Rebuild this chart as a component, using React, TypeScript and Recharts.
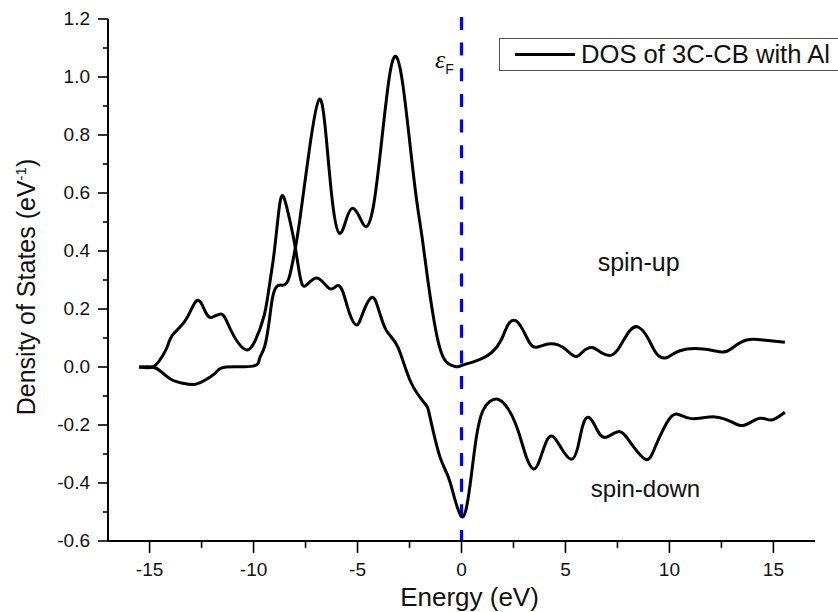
import { Label, Legend, Line, LineChart, ReferenceDot, ReferenceLine, XAxis, YAxis } from "recharts";

// curve that starts with the hump near -12.7 eV and finishes as the spin-down branch
const spinDownEnergy = [
  -15.5, -14.85, -14.45, -14.15, -13.9, -13.25, -12.73, -12.36, -12.04, -11.56, -11.24, -10.83, -10.35, -9.95, -9.5,
  -9.25, -9.0, -8.76, -8.55, -8.26, -8.0, -7.76, -7.5, -6.95, -6.36, -6.0, -5.71, -5.39, -5.04, -4.75,
  -4.35, -4.03, -3.63, -3.07, -2.45, -1.77, -1.52, -1.04, -0.56, 0, 0.4, 0.72, 1.03, 1.36, 1.75,
  2.23, 2.71, 3.11, 3.47, 3.76, 4.08, 4.4, 4.8, 5.28, 5.6, 5.84, 6.13, 6.48, 6.89, 7.53,
  8.09, 8.84, 9.29, 9.86, 10.34, 11.06, 12.18, 13.07, 13.63, 14.35, 14.9, 15.55,
];
const spinDownDos = [
  0, 0, 0.03, 0.07, 0.11, 0.164, 0.229, 0.197, 0.171, 0.183, 0.15, 0.093, 0.059, 0.087, 0.175,
  0.275, 0.4, 0.552, 0.586, 0.507, 0.415, 0.311, 0.28, 0.307, 0.271, 0.28, 0.26, 0.186, 0.145, 0.185,
  0.239, 0.208, 0.128, 0.07, -0.05, -0.125, -0.171, -0.309, -0.395, -0.516, -0.413, -0.24, -0.15, -0.119, -0.111,
  -0.143, -0.217, -0.309, -0.352, -0.321, -0.257, -0.24, -0.28, -0.318, -0.275, -0.2, -0.174, -0.211, -0.243, -0.223,
  -0.257, -0.318, -0.28, -0.194, -0.162, -0.178, -0.172, -0.192, -0.2, -0.177, -0.183, -0.156,
];

// curve that starts with the dip near -12.8 eV and finishes as the spin-up branch
const spinUpEnergy = [
  -15.5, -14.85, -14.45, -13.96, -13.4, -12.84, -12.28, -11.8, -11.32, -10.03, -9.71, -9.47, -9.24, -9.08, -8.84,
  -8.52, -8.28, -8.07, -7.8, -7.32, -6.84, -6.51, -6.2, -5.87, -5.55, -5.26, -4.91, -4.59, -4.24, -3.87,
  -3.47, -3.14, -2.83, -2.5, -2.18, -1.9, -1.62, -1.3, -1.06, -0.74, -0.26, 0, 0.8, 1.45, 1.91,
  2.23, 2.6, 2.95, 3.27, 3.6, 4.16, 4.64, 5.04, 5.49, 5.84, 6.28, 6.73, 7.21, 7.61, 8.09,
  8.52, 8.97, 9.37, 9.86, 10.5, 11.62, 12.58, 13.07, 13.71, 14.51, 15.55,
];
const spinUpDos = [
  0, 0, -0.016, -0.043, -0.056, -0.06, -0.043, -0.018, 0, 0.003, 0.03, 0.07, 0.162, 0.242, 0.28,
  0.283, 0.311, 0.38, 0.495, 0.748, 0.923, 0.794, 0.565, 0.461, 0.507, 0.547, 0.518, 0.484, 0.553, 0.76,
  1.0, 1.07, 0.978, 0.783, 0.587, 0.45, 0.3, 0.151, 0.07, 0.018, 0.001, 0.005, 0.024, 0.05, 0.093,
  0.145, 0.16, 0.128, 0.084, 0.068, 0.079, 0.076, 0.059, 0.036, 0.053, 0.067, 0.049, 0.041, 0.07, 0.125,
  0.137, 0.099, 0.047, 0.032, 0.056, 0.062, 0.052, 0.068, 0.093, 0.093, 0.085,
];

const xTicks = [-15, -12.5, -10, -7.5, -5, -2.5, 0, 2.5, 5, 7.5, 10, 12.5, 15];
const xLabelled = [-15, -10, -5, 0, 5, 10, 15];
const yTicks = [-0.6, -0.5, -0.4, -0.3, -0.2, -0.1, 0, 0.1, 0.2, 0.3, 0.4, 0.5, 0.6, 0.7, 0.8, 0.9, 1.0, 1.1, 1.2];
const yLabelled = [-0.6, -0.4, -0.2, 0, 0.2, 0.4, 0.6, 0.8, 1.0, 1.2];

const downData = spinDownEnergy.map((energy, i) => ({ energy, dos: spinDownDos[i] }));
const upData = spinUpEnergy.map((energy, i) => ({ energy, dos: spinUpDos[i] }));

const font = "'Liberation Sans', Arial, sans-serif";

function XTick({ x, y, payload }: any) {
  const major = xLabelled.includes(payload.value);
  return (
    <g>
      <line x1={x} x2={x} y1={y} y2={y + (major ? 12 : 7)} stroke="#000" strokeWidth={1.6} />
      {major && (
        <text x={x} y={y + 35} textAnchor="middle" fontFamily={font} fontSize={19} fill="#111">
          {payload.value}
        </text>
      )}
    </g>
  );
}

function YTick({ x, y, payload }: any) {
  const major = yLabelled.includes(payload.value);
  return (
    <g>
      <line x1={x} x2={x - (major ? 10 : 5)} y1={y} y2={y} stroke="#000" strokeWidth={1.6} />
      {major && (
        <text x={x - 18} y={y + 6} textAnchor="end" fontFamily={font} fontSize={19} fill="#111">
          {payload.value.toFixed(1)}
        </text>
      )}
    </g>
  );
}

function YTitle({ viewBox }: any) {
  const x = viewBox.x - 13;
  const y = viewBox.y + viewBox.height / 2 + 7;
  return (
    <text transform={`rotate(-90 ${x} ${y})`} x={x} y={y} textAnchor="middle" fontFamily={font} fontSize={25} fill="#111">
      <tspan>Density of States (eV</tspan>
      <tspan dy={-9} fontSize={15}>-1</tspan>
      <tspan dy={9}>)</tspan>
    </text>
  );
}

function FermiLabel({ viewBox }: any) {
  return (
    <text x={viewBox.x} y={viewBox.y} textAnchor="middle" fill="#111">
      <tspan fontFamily="'Liberation Serif', serif" fontStyle="italic" fontSize={26}>ε</tspan>
      <tspan dy={6} fontFamily={font} fontSize={14}>F</tspan>
    </text>
  );
}

function DosLegend() {
  return (
    <div style={{ display: "flex", alignItems: "center", boxSizing: "border-box", height: 33, width: 339, border: "1.5px solid #555", borderRight: "none", fontFamily: font, fontSize: 25.6, color: "#111", background: "#fff" }}>
      <span style={{ display: "inline-block", width: 60, height: 3, background: "#000", marginLeft: 15, marginRight: 6 }} />
      <span style={{ whiteSpace: "nowrap" }}>DOS of 3C-CB with Al</span>
    </div>
  );
}

export default function App() {
  return (
    <div style={{ position: "absolute", left: 0, top: 0, width: 838, height: 612, overflow: "hidden", background: "#fff" }}>
      <LineChart width={838} height={612} margin={{ top: 19, right: 23, bottom: 31, left: 48 }}>
        <XAxis
          dataKey="energy"
          type="number"
          domain={[-17, 17]}
          ticks={xTicks}
          interval={0}
          height={40}
          tickSize={0}
          tickMargin={0}
          tick={XTick}
          axisLine={{ stroke: "#000", strokeWidth: 2 }}
          tickLine={false}
          label={{ value: "Energy (eV)", position: "insideBottom", dy: 30, dx: 8, fontFamily: font, fontSize: 26, fill: "#111" }}
        />
        <YAxis
          type="number"
          domain={[-0.6, 1.2]}
          ticks={yTicks}
          interval={0}
          width={60}
          tickSize={0}
          tickMargin={0}
          tick={YTick}
          axisLine={{ stroke: "#000", strokeWidth: 2 }}
          tickLine={false}
        >
          <Label content={YTitle} />
        </YAxis>
        <Legend
          layout="horizontal"
          verticalAlign="middle"
          align="center"
          content={DosLegend}
          wrapperStyle={{ left: 499, top: 38, width: 339, height: 33 }}
        />
        <ReferenceLine
          segment={[{ x: 0, y: 1.207 }, { x: 0, y: -0.6 }]}
          ifOverflow="visible"
          stroke="#0000ff"
          strokeWidth={3.2}
          strokeDasharray="13 12.65"
        />
        <Line data={downData} dataKey="dos" type="natural" stroke="#000" strokeWidth={3} dot={false} isAnimationActive={false} />
        <Line data={upData} dataKey="dos" type="natural" stroke="#000" strokeWidth={3} dot={false} isAnimationActive={false} />
        <ReferenceDot x={8.52} y={0.36} r={0} stroke="none" fill="none" label={{ value: "spin-up", position: "center", fontFamily: font, fontSize: 25, fill: "#111" }} />
        <ReferenceDot x={8.85} y={-0.42} r={0} stroke="none" fill="none" label={{ value: "spin-down", position: "center", fontFamily: font, fontSize: 24, fill: "#111" }} />
        <ReferenceDot x={-0.82} y={1.03} r={0} stroke="none" fill="none">
          <Label content={FermiLabel} />
        </ReferenceDot>
      </LineChart>
    </div>
  );
}
